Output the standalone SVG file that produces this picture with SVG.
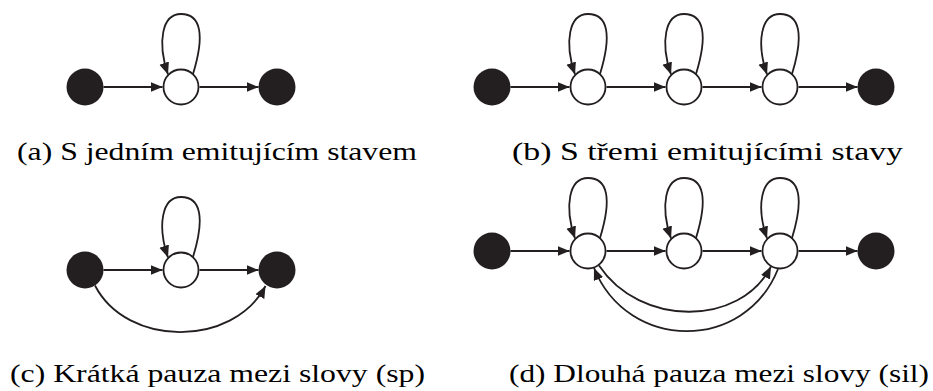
<svg xmlns="http://www.w3.org/2000/svg" width="933" height="391" viewBox="0 0 933 391">
  <style>
    .term { fill: #231f20; }
    .state { fill: #ffffff; stroke: #231f20; stroke-width: 1.8; }
    .edge { fill: none; stroke: #231f20; stroke-width: 1.8; marker-end: url(#arrow); }
    .cap { font-family: "Liberation Serif", "Times New Roman", serif; font-size: 26px; fill: #000; }
  </style>
  <defs>
    <marker id="arrow" markerUnits="userSpaceOnUse" markerWidth="14" markerHeight="12" refX="12" refY="5" orient="auto">
      <path d="M0,0 L12,5 L0,10 Z" fill="#231f20"/>
    </marker>
  </defs>

  <!-- (a) one emitting state -->
  <g id="a-start"><circle class="term" cx="85" cy="87" r="18.5"/></g>
  <g id="a-s1"><circle class="state" cx="181" cy="87" r="17.5"/></g>
  <g id="a-end"><circle class="term" cx="277" cy="87" r="18.5"/></g>

  <!-- (b) three emitting states -->
  <g id="b-start"><circle class="term" cx="492" cy="87" r="18.5"/></g>
  <g id="b-s1"><circle class="state" cx="588" cy="87" r="17.5"/></g>
  <g id="b-s2"><circle class="state" cx="684" cy="87" r="17.5"/></g>
  <g id="b-s3"><circle class="state" cx="780" cy="87" r="17.5"/></g>
  <g id="b-end"><circle class="term" cx="876" cy="87" r="18.5"/></g>

  <!-- (c) short pause -->
  <g id="c-start"><circle class="term" cx="85" cy="270" r="18.5"/></g>
  <g id="c-s1"><circle class="state" cx="181" cy="270" r="17.5"/></g>
  <g id="c-end"><circle class="term" cx="277" cy="270" r="18.5"/></g>

  <!-- (d) long pause -->
  <g id="d-start"><circle class="term" cx="492" cy="251" r="18.5"/></g>
  <g id="d-s1"><circle class="state" cx="588" cy="251" r="17.5"/></g>
  <g id="d-s2"><circle class="state" cx="684" cy="251" r="17.5"/></g>
  <g id="d-s3"><circle class="state" cx="780" cy="251" r="17.5"/></g>
  <g id="d-end"><circle class="term" cx="876" cy="251" r="18.5"/></g>

  <g id="connectors">
    <!-- (a) -->
    <path class="edge" d="M103.5,87 H162.5"/>
    <path class="edge" d="M199.5,87 H258.5"/>
    <path class="edge" d="M193,74 C205,35 201,14 181,14 C162,14 157,42 168,74.5"/>

    <!-- (b) -->
    <path class="edge" d="M510.5,87 H569.5"/>
    <path class="edge" d="M606.5,87 H665.5"/>
    <path class="edge" d="M702.5,87 H761.5"/>
    <path class="edge" d="M798.5,87 H857.5"/>
    <path class="edge" d="M600,74 C612,35 608,14 588,14 C569,14 564,42 575,74.5"/>
    <path class="edge" d="M696,74 C708,35 704,14 684,14 C665,14 660,42 671,74.5"/>
    <path class="edge" d="M792,74 C804,35 800,14 780,14 C761,14 756,42 767,74.5"/>

    <!-- (c) -->
    <path class="edge" d="M103.5,270 H162.5"/>
    <path class="edge" d="M199.5,270 H258.5"/>
    <path class="edge" d="M193,257 C205,218 201,197 181,197 C162,197 157,225 168,257.5"/>
    <path class="edge" d="M95,285.5 C127,347.5 233,347.5 265.5,286"/>

    <!-- (d) -->
    <path class="edge" d="M510.5,251 H569.5"/>
    <path class="edge" d="M606.5,251 H665.5"/>
    <path class="edge" d="M702.5,251 H761.5"/>
    <path class="edge" d="M798.5,251 H857.5"/>
    <path class="edge" d="M600,238 C612,199 608,178 588,178 C569,178 564,206 575,238.5"/>
    <path class="edge" d="M696,238 C708,199 704,178 684,178 C665,178 660,206 671,238.5"/>
    <path class="edge" d="M792,238 C804,199 800,178 780,178 C761,178 756,206 767,238.5"/>
    <path class="edge" d="M599,265.5 C640,327 740,327 771,266.5"/>
    <path class="edge" d="M778,269 C745,352 628,352 594,268"/>
  </g>

  <text class="cap" x="17" y="160" textLength="400" lengthAdjust="spacingAndGlyphs">(a) S jedním emitujícím stavem</text>
  <text class="cap" x="512" y="160" textLength="391" lengthAdjust="spacingAndGlyphs">(b) S třemi emitujícími stavy</text>
  <text class="cap" x="10" y="382" textLength="415" lengthAdjust="spacingAndGlyphs">(c) Krátká pauza mezi slovy (sp)</text>
  <text class="cap" x="509" y="382" textLength="420" lengthAdjust="spacingAndGlyphs">(d) Dlouhá pauza mezi slovy (sil)</text>
</svg>
